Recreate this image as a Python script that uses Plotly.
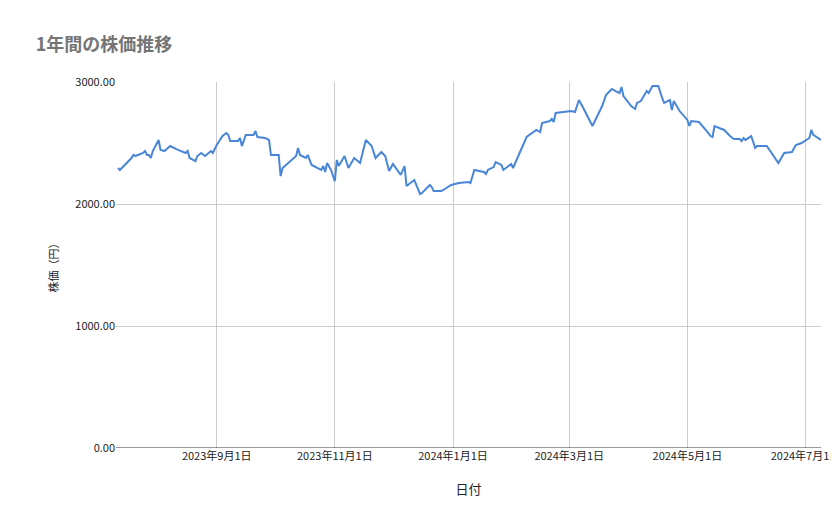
import plotly.graph_objects as go
import pandas as pd

start_date = "2023-07-11"
day_offsets = [1,2,8,9,10,14,15,16,17,18,19,22,23,25,28,32,36,37,38,41,42,44,46,49,50,52,55,57,58,59,63,64,65,67,71,72,73,77,79,80,84,85,86,90,93,94,95,98,99,101,103,106,107,108,109,111,113,114,115,118,120,123,126,129,132,134,137,139,141,143,147,149,150,154,157,158,162,163,164,168,169,173,177,182,183,185,190,191,192,195,196,199,200,204,205,209,212,217,219,220,224,225,226,227,233,235,237,239,241,246,248,251,253,256,258,260,261,262,266,268,269,271,274,275,277,280,282,283,286,287,288,291,295,296,297,301,305,307,308,309,314,317,319,322,323,324,325,328,330,331,336,342,345,349,351,354,358,359,360,364]
prices = [2295,2279,2377,2402,2393,2418,2434,2402,2402,2377,2434,2525,2443,2434,2475,2443,2418,2434,2377,2352,2393,2418,2393,2434,2418,2484,2557,2582,2566,2516,2516,2541,2475,2566,2566,2598,2549,2541,2525,2402,2402,2229,2295,2352,2393,2459,2402,2377,2402,2320,2303,2279,2311,2262,2336,2279,2188,2361,2311,2393,2295,2377,2336,2525,2475,2377,2426,2393,2270,2328,2238,2311,2148,2197,2082,2090,2156,2139,2107,2107,2115,2156,2172,2180,2172,2279,2262,2246,2279,2303,2344,2320,2279,2328,2295,2434,2549,2607,2590,2664,2680,2697,2672,2746,2762,2762,2754,2852,2795,2639,2705,2803,2893,2943,2926,2910,2959,2885,2803,2779,2828,2844,2926,2910,2967,2967,2869,2828,2852,2770,2844,2762,2689,2639,2680,2672,2598,2557,2549,2639,2607,2557,2533,2533,2516,2541,2525,2557,2459,2475,2475,2336,2418,2426,2484,2500,2541,2607,2566,2525]
tick_dates = ["2023-09-01","2023-11-01","2024-01-01","2024-03-01","2024-05-01","2024-07-01"]
tick_labels = ["2023年9月1日","2023年11月1日","2024年1月1日","2024年3月1日","2024年5月1日","2024年7月1日"]

dates = pd.Timestamp(start_date) + pd.to_timedelta(day_offsets, unit="D")

fig = go.Figure(go.Scatter(x=dates, y=prices, mode="lines",
                           line=dict(color="#4a86d8", width=2), hoverinfo="skip"))
font = "Noto Sans CJK JP, Roboto, sans-serif"
fig.update_layout(
    width=839, height=519, plot_bgcolor="white", paper_bgcolor="white",
    margin=dict(l=108, r=26, t=74, b=79, autoexpand=False),
    font=dict(family=font, size=11, color="#222"),
    title=dict(text="<b>1年間の株価推移</b>", x=0.033, xref="container", xanchor="left",
               y=0.93, yref="container", yanchor="middle",
               font=dict(size=18, color="#757575")),
    showlegend=False,
)
fig.update_xaxes(range=["2023-07-11", "2024-07-09"], tickvals=tick_dates, ticktext=tick_labels,
                 showgrid=True, gridcolor="#cccccc", zeroline=False, showline=False,
                 automargin=False, title=dict(text="日付", standoff=22), ticks="",
                 tickfont=dict(size=11))
fig.update_yaxes(range=[0, 3000], dtick=1000, tickformat=".2f", showgrid=True,
                 gridcolor="#cccccc", zeroline=False, showline=False, automargin=False,
                 title=dict(text="株価（円）", standoff=14, font=dict(size=11)), ticks="")
fig.add_shape(type="line", xref="paper", yref="y", x0=0, x1=1, y0=0, y1=0,
              line=dict(color="#333333", width=1))
fig.write_html("out.html")
